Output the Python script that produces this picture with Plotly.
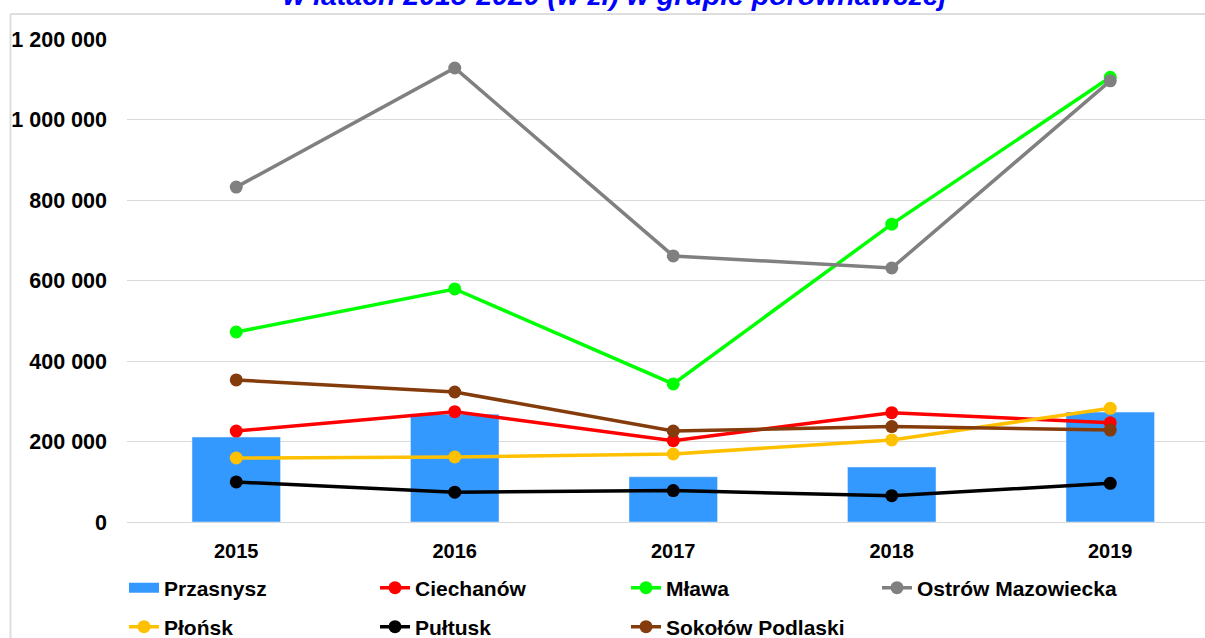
import plotly.graph_objects as go

years = ["2015", "2016", "2017", "2018", "2019"]

przasnysz = [211000, 268000, 112500, 136500, 273000]
ciechanow = [226000, 274000, 202000, 271500, 246500]
mlawa = [472000, 579000, 343000, 740000, 1105000]
ostrow = [832000, 1128000, 661000, 631000, 1096000]
plonsk = [159000, 161500, 169000, 204000, 282500]
pultusk = [99500, 74000, 78000, 65500, 96000]
sokolow = [353000, 323000, 226000, 237000, 228500]

line_series = [
    ("Ciechanów", ciechanow, "#FF0000", "legend"),
    ("Mława", mlawa, "#00FF00", "legend"),
    ("Ostrów Mazowiecka", ostrow, "#808080", "legend"),
    ("Płońsk", plonsk, "#FFC000", "legend2"),
    ("Pułtusk", pultusk, "#000000", "legend2"),
    ("Sokołów Podlaski", sokolow, "#843C0C", "legend2"),
]

W, H = 1205, 638
ML, MR, MT, MB = 127, 0, 39, 116
PW = W - ML - MR
PH = H - MT - MB


def px_x(p):
    return (p - ML) / PW


def px_y(p):
    return (H - MB - p) / PH


FONT = "Liberation Sans, Arial, sans-serif"
BAR_COLOR = "#3399FF"

fig = go.Figure()
fig.add_trace(go.Bar(
    x=years, y=przasnysz, name="Przasnysz", marker_color=BAR_COLOR,
    width=0.405, showlegend=False,
))
# legend entry for the bar series drawn as a wide swatch
fig.add_trace(go.Scatter(
    x=[None], y=[None], name="Przasnysz", mode="lines",
    line=dict(color=BAR_COLOR, width=12), legend="legend",
))
for name, vals, col, lg in line_series:
    fig.add_trace(go.Scatter(
        x=years, y=vals, name=name, mode="lines+markers",
        line=dict(color=col, width=3.5),
        marker=dict(color=col, size=13),
        legend=lg,
    ))

grid = "#D9D9D9"
legend_common = dict(
    orientation="h", x=px_x(124), xanchor="left", yanchor="middle",
    entrywidth=206, entrywidthmode="pixels",
    font=dict(family=FONT, size=21, color="black", weight="bold"),
    bgcolor="rgba(0,0,0,0)", traceorder="normal",
)
fig.update_layout(
    width=W, height=H,
    margin=dict(l=ML, r=MR, t=MT, b=MB, autoexpand=False),
    plot_bgcolor="white", paper_bgcolor="white",
    separators=", ",
    hovermode=False,
    font=dict(family=FONT, size=20, color="black", weight="bold"),
    xaxis=dict(
        type="category", range=[-0.5, -0.5 + PW / 218.5],
        showgrid=False, showline=False, zeroline=False,
        ticks="", ticklabelstandoff=15,
        tickfont=dict(family=FONT, size=20, color="black", weight="bold"),
    ),
    yaxis=dict(
        range=[0, 1200000], dtick=200000, tickformat=",d",
        showgrid=True, gridcolor=grid, gridwidth=1,
        zeroline=True, zerolinecolor=grid, zerolinewidth=1,
        showline=False, ticks="", ticklabelstandoff=19,
        tickfont=dict(family=FONT, size=21.5, color="black", weight="bold"),
    ),
    legend=dict(legend_common, y=px_y(588)),
    legend2=dict(legend_common, y=px_y(627)),
    showlegend=True,
)

# outer chart frame (left and top edges visible)
fig.add_shape(type="line", xref="paper", yref="paper",
              x0=px_x(10.5), x1=px_x(10.5), y0=px_y(14), y1=px_y(H + 5),
              line=dict(color="#DDDDDD", width=2), layer="below")
fig.add_shape(type="line", xref="paper", yref="paper",
              x0=px_x(10.5), x1=px_x(W + 5), y0=px_y(14), y1=px_y(14),
              line=dict(color="#DDDDDD", width=2), layer="below")

fig.add_annotation(
    text="w latach 2015-2020 (w zł) w grupie porównawczej",
    xref="paper", yref="paper", x=px_x(615), y=px_y(-5),
    xanchor="center", yanchor="middle", showarrow=False,
    font=dict(family=FONT, size=28.5, color="#0000FF", weight="bold", style="italic"),
)

fig.write_html(
    "out.html",
    config={"displayModeBar": False},
    post_script="document.body.style.margin='0';document.body.style.overflow='hidden';",
)
